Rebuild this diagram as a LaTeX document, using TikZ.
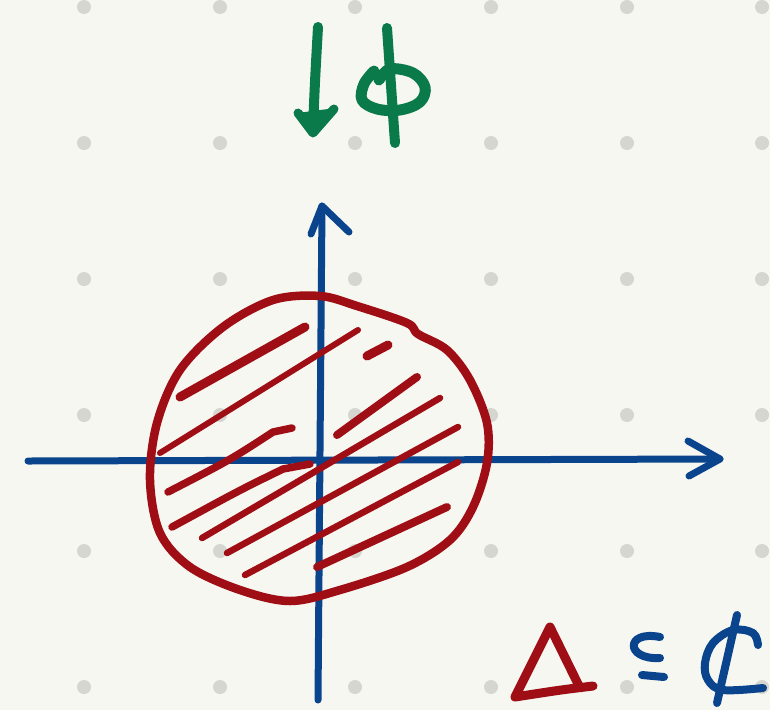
\documentclass[tikz,border=0pt]{standalone}
\usetikzlibrary{calc}
\definecolor{bg}{RGB}{247,247,242}
\definecolor{dotc}{RGB}{214,214,209}
\definecolor{inkblue}{RGB}{10,68,140}
\definecolor{inkred}{RGB}{158,14,20}
\definecolor{inkgreen}{RGB}{10,122,74}
\tikzset{
  pen/.style={line cap=round,line join=round},
  bluepen/.style={pen,draw=inkblue,line width=7pt},
  redpen/.style={pen,draw=inkred,line width=8pt},
  hatch/.style={pen,draw=inkred,line width=7.5pt},
  greenpen/.style={pen,draw=inkgreen,line width=10pt},
  griddot/.style={fill=dotc,draw=none}
}
\begin{document}
\begin{tikzpicture}[x=1pt,y=-1pt]
\fill[bg] (0,0) rectangle (770,710);
\useasboundingbox (0,0) rectangle (770,710);
% grid dots
\foreach \gx in {84,220,355,491,627,762}{
  \foreach \gy in {7,143,279,415,551,687}{
    \fill[griddot] (\gx,\gy) circle (7);
  }
}
% axes
\coordinate (xs) at (28,461);
\coordinate (xe) at (720,459);
\coordinate (ys) at (318,700);
\coordinate (ye) at (322,206);
\draw[bluepen] (xs) -- (xe);
\draw[bluepen] (688,441) -- (xe) -- (689,476);
\draw[bluepen] (ys) .. controls (320,450) .. (ye);
\draw[bluepen] (311,234) -- (ye) -- (349,232);
% disk outline
\draw[redpen,line width=8.5pt] plot[smooth cycle,tension=0.55] coordinates {
 (320,296) (357,306) (407,323) (418,334) (447,350) (470,380) (487,423)
 (487,463) (473,507) (450,540) (407,567) (340,590) (290,601) (240,590)
 (190,567) (160,533) (150,480) (157,423) (180,370) (223,327) (273,300)};
% hatching
\draw[hatch,line width=9pt] (180,397) -- (305,327);
\draw[hatch,line width=6pt] (160,453) -- (358,330);
\draw[hatch,line width=9pt] (367,356) -- (388,345);
\draw[hatch] (168,492) .. controls (230,460) .. (273,432) -- (292,428);
\draw[hatch] (172,527) .. controls (240,490) .. (283,469) -- (310,464);
\draw[hatch,line width=8pt] (337,435) -- (417,377);
\draw[hatch,line width=6.5pt] (202,538) -- (440,398);
\draw[hatch,line width=6.5pt] (227,553) -- (458,427);
\draw[hatch,line width=6.5pt] (245,575) -- (458,462);
\draw[hatch,line width=8pt] (317,567) -- (447,507);
% green arrow and phi
\draw[greenpen] (318,27) .. controls (315,80) .. (313,128);
\fill[inkgreen,rounded corners=3pt] (297,113) -- (336,108) -- (313,138) -- cycle;
\draw[greenpen,line width=9pt] (298,113) -- (313,133) -- (334,109);
\draw[greenpen] (387,28) -- (395,143);
\draw[greenpen,line width=11pt] plot[smooth,tension=0.6] coordinates {
 (374,71) (364,84) (362,100) (377,109) (400,110) (420,102) (425,87)
 (413,73) (390,69) (379,80)};
% Delta
\draw[redpen,line width=9pt] (593,686) .. controls (560,690) .. (515,697)
  -- (550,627) -- (580,688);
% subseteq
\draw[bluepen,line width=8pt] (660,637) .. controls (625,630) and (625,660) .. (660,658);
\draw[bluepen,line width=8pt] (642,675) -- (664,677);
% C with bar
\draw[bluepen,line width=8pt] plot[smooth,tension=0.6] coordinates {
 (758,645) (753,633) (733,630) (713,643) (705,663) (708,680) (723,690) (763,688)};
\draw[bluepen,line width=8pt] (737,615) -- (717,703);
\end{tikzpicture}
\end{document}
